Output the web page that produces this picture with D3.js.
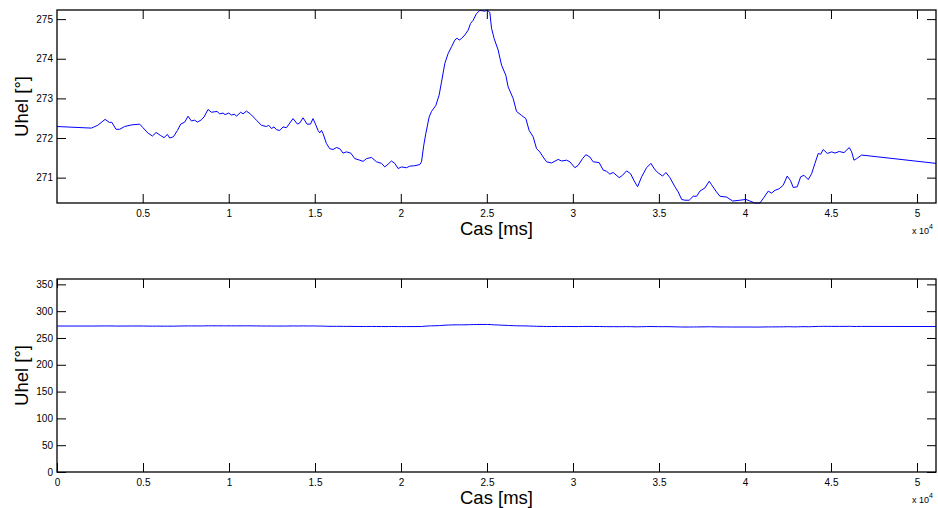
<!DOCTYPE html>
<html>
<head>
<meta charset="utf-8">
<script src="https://cdn.jsdelivr.net/npm/d3@7"></script>
<style>
  body { margin: 0; background: #fff; }
  svg text { font-family: "Liberation Sans", Arial, Helvetica, sans-serif; fill: #000; }
</style>
</head>
<body>
<div id="chart"></div>
<script>

// time [ms] and angle [deg]
var timeMs = [20, 2017, 2384, 2814, 3081, 3198, 3454, 3663, 3954, 4343, 4826, 5017, 5291, 5564, 5779,
  6047, 6238, 6436, 6570, 6785, 7018, 7209, 7442, 7634, 7831, 8023, 8180, 8413, 8564, 8797, 8994,
  9320, 9477, 9669, 9791, 10000, 10157, 10349, 10448, 10698, 10832, 11029, 11279, 11610, 11901,
  12192, 12326, 12483, 12634, 12773, 12965, 13157, 13355, 13738, 13994, 14128, 14320, 14552, 14750,
  14901, 15041, 15192, 15291, 15390, 15483, 15680, 15872, 16064, 16262, 16454, 16645, 16843, 17093,
  17326, 17616, 17808, 18006, 18297, 18587, 18878, 19070, 19262, 19459, 19651, 19843, 20041, 20331,
  20523, 20814, 21105, 21204, 21337, 21454, 21646, 21785, 22035, 22227, 22366, 22558, 22750, 22948,
  23140, 23273, 23390, 23529, 23721, 23913, 24053, 24204, 24402, 24593, 24884, 25018, 25175, 25273,
  25425, 25657, 25855, 26105, 26239, 26529, 26727, 27018, 27268, 27460, 27693, 27890, 28082, 28274,
  28472, 28762, 29146, 29343, 29634, 29826, 30117, 30309, 30564, 30756, 30988, 31180, 31529, 31762,
  31959, 32151, 32343, 32692, 32890, 33122, 33355, 33547, 33762, 33995, 34285, 34535, 34768, 34960,
  35216, 35408, 35641, 35931, 36123, 36321, 36512, 36762, 36995, 37192, 37384, 37675, 37925, 38064,
  38314, 38547, 38936, 39285, 39710, 40058, 40291, 40581, 40872, 41105, 41355, 41552, 41744, 41994,
  42227, 42459, 42657, 42808, 43041, 43238, 43430, 43680, 43878, 44070, 44262, 44401, 44553, 44785,
  45041, 45233, 45483, 45756, 46064, 46204, 46337, 46494, 46785, 51105];

var angleDeg = [272.29, 272.25, 272.32, 272.47, 272.39, 272.40, 272.22, 272.22, 272.29, 272.33, 272.35,
  272.26, 272.13, 272.05, 272.14, 272.06, 272.01, 272.09, 272.00, 272.03, 272.19, 272.35, 272.40,
  272.55, 272.43, 272.45, 272.40, 272.46, 272.53, 272.72, 272.65, 272.67, 272.61, 272.63, 272.59,
  272.63, 272.58, 272.60, 272.55, 272.65, 272.61, 272.68, 272.60, 272.45, 272.32, 272.29, 272.32,
  272.24, 272.28, 272.21, 272.19, 272.28, 272.26, 272.49, 272.35, 272.38, 272.51, 272.35, 272.35,
  272.49, 272.35, 272.19, 272.13, 272.19, 272.11, 271.86, 271.73, 271.71, 271.76, 271.73, 271.62,
  271.65, 271.62, 271.48, 271.44, 271.41, 271.48, 271.51, 271.40, 271.36, 271.27, 271.34, 271.42,
  271.36, 271.23, 271.27, 271.25, 271.29, 271.30, 271.33, 271.40, 271.82, 272.11, 272.53, 272.67,
  272.82, 273.08, 273.41, 273.88, 274.13, 274.30, 274.47, 274.52, 274.47, 274.51, 274.60, 274.72,
  274.89, 274.97, 275.14, 275.22, 275.20, 275.23, 275.17, 274.77, 274.51, 274.22, 273.84, 273.58,
  273.29, 273.00, 272.67, 272.57, 272.49, 272.19, 272.03, 271.73, 271.65, 271.52, 271.40, 271.37,
  271.46, 271.42, 271.44, 271.40, 271.25, 271.31, 271.48, 271.58, 271.52, 271.40, 271.38, 271.19,
  271.16, 271.09, 271.13, 271.00, 271.06, 271.17, 271.10, 270.93, 270.77, 271.02, 271.25, 271.36,
  271.20, 271.12, 271.04, 271.13, 271.00, 270.77, 270.64, 270.45, 270.43, 270.43, 270.53, 270.53,
  270.66, 270.74, 270.91, 270.82, 270.66, 270.53, 270.51, 270.41, 270.43, 270.45, 270.41, 270.36,
  270.36, 270.50, 270.66, 270.61, 270.68, 270.72, 270.81, 271.04, 270.92, 270.75, 270.77, 271.02,
  271.06, 270.95, 271.10, 271.36, 271.61, 271.59, 271.71, 271.61, 271.65, 271.62, 271.66, 271.63,
  271.76, 271.65, 271.44, 271.48, 271.57, 271.36];

var xTicks = [0, 5000, 10000, 15000, 20000, 25000, 30000, 35000, 40000, 45000, 50000];
var xTickLabels = ["0", "0.5", "1", "1.5", "2", "2.5", "3", "3.5", "4", "4.5", "5"];
var yTicksTop = [271, 272, 273, 274, 275];
var yTicksBottom = [0, 50, 100, 150, 200, 250, 300, 350];
var yRangeBottom = [0, 360];

var xLabel = "Cas [ms]";
var yLabel = "Uhel [°]";

var data = timeMs.map(function (t, i) { return { t: t, a: angleDeg[i] }; });

var W = 938, H = 508;
var left = 57, right = 936;

var svg = d3.select("#chart").append("svg")
  .attr("width", W).attr("height", H);

function panel(top, bottom, xDomain, yDomain, yTicks, showZero) {
  var x = d3.scaleLinear().domain(xDomain).range([left, right]);
  var y = d3.scaleLinear().domain(yDomain).range([bottom, top]);
  var g = svg.append("g");
  var h = bottom - top, w = right - left;
  var xt = xTicks.filter(function (d) { return d >= xDomain[0] && (showZero || d > 0); });

  // inward ticks on all four sides
  g.append("g").attr("transform", "translate(0," + bottom + ")")
    .call(d3.axisBottom(x).tickValues(xt).tickSizeInner(-9).tickSizeOuter(0).tickPadding(7)
      .tickFormat(function (d) { return xTickLabels[xTicks.indexOf(d)]; }));
  g.append("g").attr("transform", "translate(0," + top + ")")
    .call(d3.axisTop(x).tickValues(xt).tickSizeInner(-9).tickSizeOuter(0).tickFormat(""));
  g.append("g").attr("transform", "translate(" + left + ",0)")
    .call(d3.axisLeft(y).tickValues(yTicks).tickSizeInner(-9).tickSizeOuter(0).tickPadding(4)
      .tickFormat(d3.format("d")));
  g.append("g").attr("transform", "translate(" + right + ",0)")
    .call(d3.axisRight(y).tickValues(yTicks).tickSizeInner(-9).tickSizeOuter(0).tickFormat(""));

  g.selectAll(".domain").remove();
  g.selectAll(".tick line").attr("stroke", "#000").attr("stroke-width", 1);
  g.selectAll(".tick text").style("font-size", "10px")
    .style("font-family", "'Liberation Sans', Arial, sans-serif");

  g.append("clipPath").attr("id", "clip" + top)
    .append("rect").attr("x", left).attr("y", top - 1).attr("width", w).attr("height", h + 2);

  g.append("path").datum(data)
    .attr("clip-path", "url(#clip" + top + ")")
    .attr("fill", "none").attr("stroke", "#0000ff").attr("stroke-width", 1)
    .attr("d", d3.line().x(function (d) { return x(d.t); }).y(function (d) { return y(d.a); }));

  g.append("rect").attr("x", left).attr("y", top).attr("width", w).attr("height", h)
    .attr("fill", "none").attr("stroke", "#000").attr("stroke-width", 1.3);

  g.append("text").attr("x", (left + right) / 2).attr("y", bottom + 32)
    .attr("text-anchor", "middle").style("font-size", "18.5px").text(xLabel);

  g.append("text").attr("transform", "translate(28," + (top + h / 2) + ") rotate(-90)")
    .attr("text-anchor", "middle").style("font-size", "18.5px").text(yLabel);

  var ex = g.append("text").attr("x", 912).attr("y", bottom + 31).style("font-size", "9px");
  ex.append("tspan").text("x 10");
  ex.append("tspan").attr("dy", -5).style("font-size", "7px").text("4");
}

var xMax = d3.max(timeMs);
panel(10, 203, d3.extent(timeMs), d3.extent(angleDeg), yTicksTop, false);
panel(279, 472, [0, xMax], yRangeBottom, yTicksBottom, true);

</script>
</body>
</html>
